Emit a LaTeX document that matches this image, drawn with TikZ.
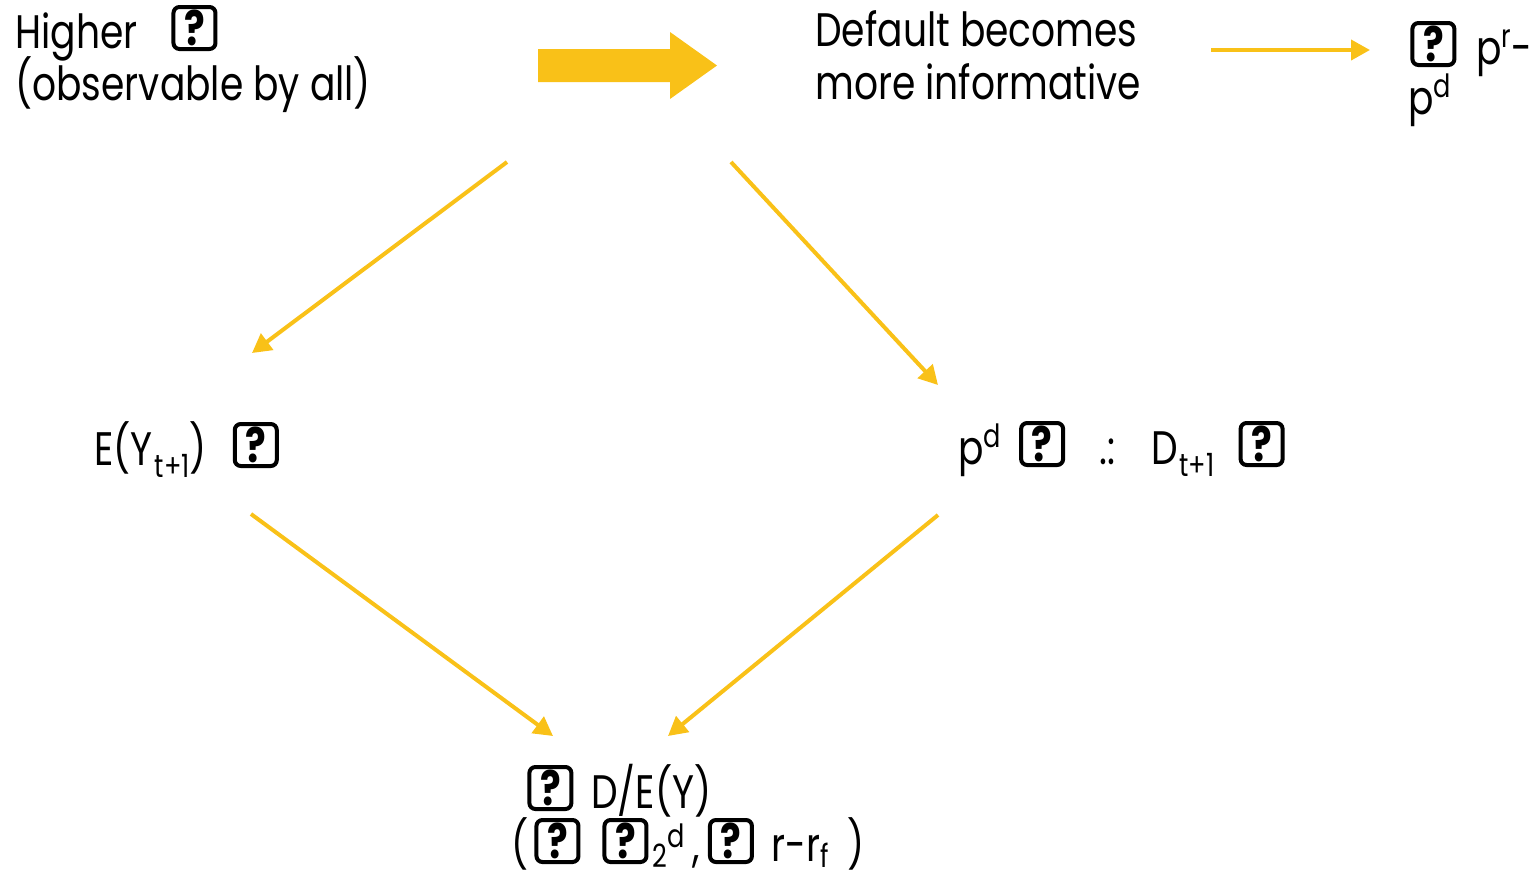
\documentclass[tikz,border=0pt]{standalone}
\usepackage{fontspec}
\setmainfont{Poppins}[FakeStretch=0.8]
\usetikzlibrary{arrows.meta}
\definecolor{gold}{RGB}{249,193,24}
\newsavebox\qboxbox
\newcommand\qb{\usebox\qboxbox}
\newcommand\mysub[1]{\raisebox{-6pt}{\fontsize{16pt}{16pt}\selectfont #1}}
\newcommand\mysup[1]{\raisebox{8.5pt}{\fontsize{16pt}{16pt}\selectfont #1}}
\newcommand\lowsub[1]{\raisebox{-3pt}{\fontsize{16pt}{16pt}\selectfont #1}}
\newcommand\lowsup[1]{\raisebox{7pt}{\fontsize{16pt}{16pt}\selectfont #1}}
\begin{document}
\sbox\qboxbox{\begin{pgfpicture}
 \pgfsetbaseline{0pt}
 \pgfsetlinewidth{2pt}
 \pgfsetcornersarced{\pgfpoint{3pt}{3pt}}
 \pgfpathrectangle{\pgfpoint{1pt}{-0.5pt}}{\pgfpoint{21pt}{21pt}}
 \pgfusepath{stroke}
 \pgftext[at={\pgfpoint{11.5pt}{10pt}}]{\fontsize{24pt}{24pt}\selectfont\bfseries ?}
\end{pgfpicture}}
\begin{tikzpicture}[x=0.5pt,y=-0.5pt,
  txt/.style={anchor=base west, inner sep=0pt, font=\fontsize{23.5pt}{26pt}\selectfont},
  thin/.style={draw=gold, line width=2pt, -{Triangle[length=9.5pt,width=10pt]}},
  block/.style={fill=gold, draw=none}]
\useasboundingbox (0,0) rectangle (1538,880);
% texts
\node[txt] (higher1) at (15,48) {Higher\hspace{17pt}\qb};
\node[txt] (higher2) at (15,100) {(observable by all)};
\node[txt] (def1) at (815,46) {Default becomes};
\node[txt] (def2) at (815,99) {more informative};
\node[txt] (pr1) at (1410,64) {\qb\hspace{10pt}p\mysup{r}-};
\node[txt] (pr2) at (1408,114) {p\mysup{d}};
\node[txt] (ey) at (94,465) {E(Y\hspace{1pt}\mysub{t+1})\hspace{13pt}\qb};
\node[txt] (pd) at (958,464) {p\mysup{d}\hspace{9pt}\qb\hspace{17pt}.:\hspace{18pt}D\hspace{1pt}\mysub{t+1}\hspace{12pt}\qb};
\node[txt] (de1) at (527,808) {\qb\hspace{9pt}D/E(Y)};
\node[txt] (de2) at (511,861) {(\hspace{3pt}\qb\hspace{11pt}\qb\hspace{2pt}\lowsub{2}\lowsup{d}\hspace{4pt},\hspace{4pt}\qb\hspace{9pt}r-r\lowsub{f}\hspace{9pt})};
% block arrow
\coordinate (b1) at (538,49);
\path[block] (b1) -- (670,49) -- (670,32) -- (717,65.5) -- (670,99) -- (670,82) -- (538,82) -- cycle;
% connector coordinates
\coordinate (t1s) at (1211,50);
\coordinate (t1e) at (1370,50);
\coordinate (d1s) at (507,162);
\coordinate (d1e) at (252,353);
\coordinate (d2s) at (731,162);
\coordinate (d2e) at (938,385);
\coordinate (d3s) at (251,514);
\coordinate (d3e) at (553,736);
\coordinate (d4s) at (938,515);
\coordinate (d4e) at (668,736);
\draw[thin] (t1s) -- (t1e);
\draw[thin] (d1s) -- (d1e);
\draw[thin] (d2s) -- (d2e);
\draw[thin] (d3s) -- (d3e);
\draw[thin] (d4s) -- (d4e);
\end{tikzpicture}
\end{document}
